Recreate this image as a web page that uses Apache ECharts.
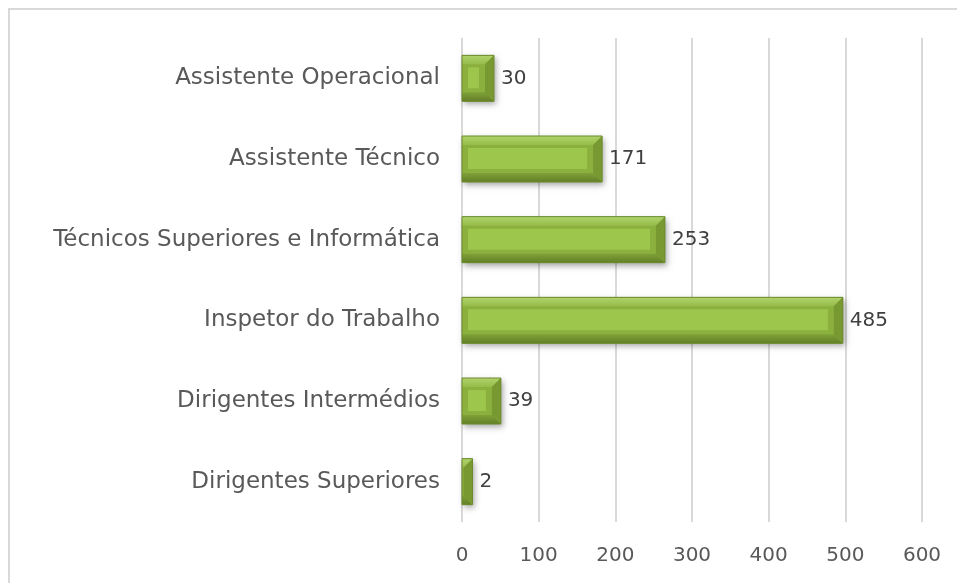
<!DOCTYPE html>
<html lang="pt">

<head>
    <meta charset="UTF-8">
    <title>Efetivos por carreira</title>
    <script src="https://cdn.jsdelivr.net/npm/echarts@6/dist/echarts.min.js"></script>
    <style>
        html, body { margin: 0; padding: 0; background: #fff; }
        #main { width: 957px; height: 583px; }
    </style>
</head>

<body>
    <div id="main"></div>
    <script>
        // categories from bottom to top (as drawn on the y axis)
        var categorias = [
            'Dirigentes Superiores',
            'Dirigentes Intermédios',
            'Inspetor do Trabalho',
            'Técnicos Superiores e Informática',
            'Assistente Técnico',
            'Assistente Operacional'
        ];
        var valores = [2, 39, 485, 253, 171, 30];
        var xTicks = [0, 100, 200, 300, 400, 500, 600];

        var fonte = 'Verdana, "DejaVu Sans", sans-serif';

        var chart = echarts.init(document.getElementById('main'));

        // bevelled bar like the excel "3D" format: the bevel adds a few px past the value
        function desenhaBarra(params, api) {
            var v = api.value(1);
            var ini = api.coord([0, api.value(0)]);
            var fim = api.coord([v, api.value(0)]);
            var h = 46;
            var b = 9;
            var x0 = ini[0];
            var x1 = fim[0] + b;
            var yT = ini[1] - h / 2;
            var yB = ini[1] + h / 2;
            var bx = Math.min(b, x1 - x0);
            var filhos = [
                {
                    type: 'rect',
                    shape: { x: x0, y: yT, width: x1 - x0, height: h },
                    style: {
                        fill: '#8bb03e',
                        shadowColor: 'rgba(0,0,0,0.35)', shadowBlur: 6,
                        shadowOffsetX: 2, shadowOffsetY: 3
                    }
                },
                {
                    type: 'polygon',
                    shape: { points: [[x0, yT], [x1, yT], [x1 - bx, yT + b], [x0, yT + b]] },
                    style: {
                        fill: new echarts.graphic.LinearGradient(0, 0, 0, 1, [
                            { offset: 0, color: '#b0d36b' },
                            { offset: 1, color: '#96bc4a' }
                        ])
                    }
                },
                {
                    type: 'polygon',
                    shape: { points: [[x0, yB], [x1, yB], [x1 - bx, yB - b], [x0, yB - b]] },
                    style: {
                        fill: new echarts.graphic.LinearGradient(0, 0, 0, 1, [
                            { offset: 0, color: '#7fa138' },
                            { offset: 1, color: '#637f27' }
                        ])
                    }
                },
                {
                    type: 'polygon',
                    shape: { points: [[x1, yT], [x1, yB], [x1 - bx, yB - b], [x1 - bx, yT + b]] },
                    style: { fill: '#789932' }
                }
            ];
            var sw = x1 - b - 6 - (x0 + 6);
            if (sw > 0) {
                filhos.push({
                    type: 'rect',
                    shape: { x: x0 + 6, y: yT + b + 3, width: sw, height: h - 2 * b - 7 },
                    style: { fill: '#9cc64c' }
                });
            }
            filhos.push({
                type: 'rect',
                shape: { x: x0, y: yT, width: x1 - x0, height: h },
                style: { fill: 'none', stroke: '#6a8a2c', lineWidth: 1 }
            });
            filhos.push({
                type: 'text',
                x: x1 + 7,
                y: ini[1],
                style: {
                    text: String(v),
                    fill: '#404040',
                    font: '20px ' + fonte,
                    verticalAlign: 'middle'
                }
            });
            return { type: 'group', children: filhos };
        }

        chart.setOption({
            animation: false,
            grid: { left: 462, right: 35, top: 38, bottom: 61 },
            graphic: [{
                type: 'rect',
                shape: { x: 9, y: 9, width: 1000, height: 700 },
                style: { fill: 'none', stroke: '#d9d9d9', lineWidth: 2 },
                silent: true
            }],
            xAxis: {
                type: 'value',
                min: xTicks[0],
                max: xTicks[xTicks.length - 1],
                interval: 100,
                axisLine: { show: false },
                axisTick: { show: false },
                splitLine: { lineStyle: { color: '#d9d9d9', width: 2 } },
                axisLabel: { color: '#595959', fontSize: 20, fontFamily: fonte, margin: 24 }
            },
            yAxis: {
                type: 'category',
                data: categorias,
                axisLine: { show: false },
                axisTick: { show: false },
                axisLabel: { color: '#595959', fontSize: 23, fontFamily: fonte, margin: 22 }
            },
            series: [{
                type: 'custom',
                renderItem: desenhaBarra,
                encode: { x: 1, y: 0 },
                data: valores.map(function (v, i) { return [i, v]; })
            }]
        });
    </script>
</body>

</html>
